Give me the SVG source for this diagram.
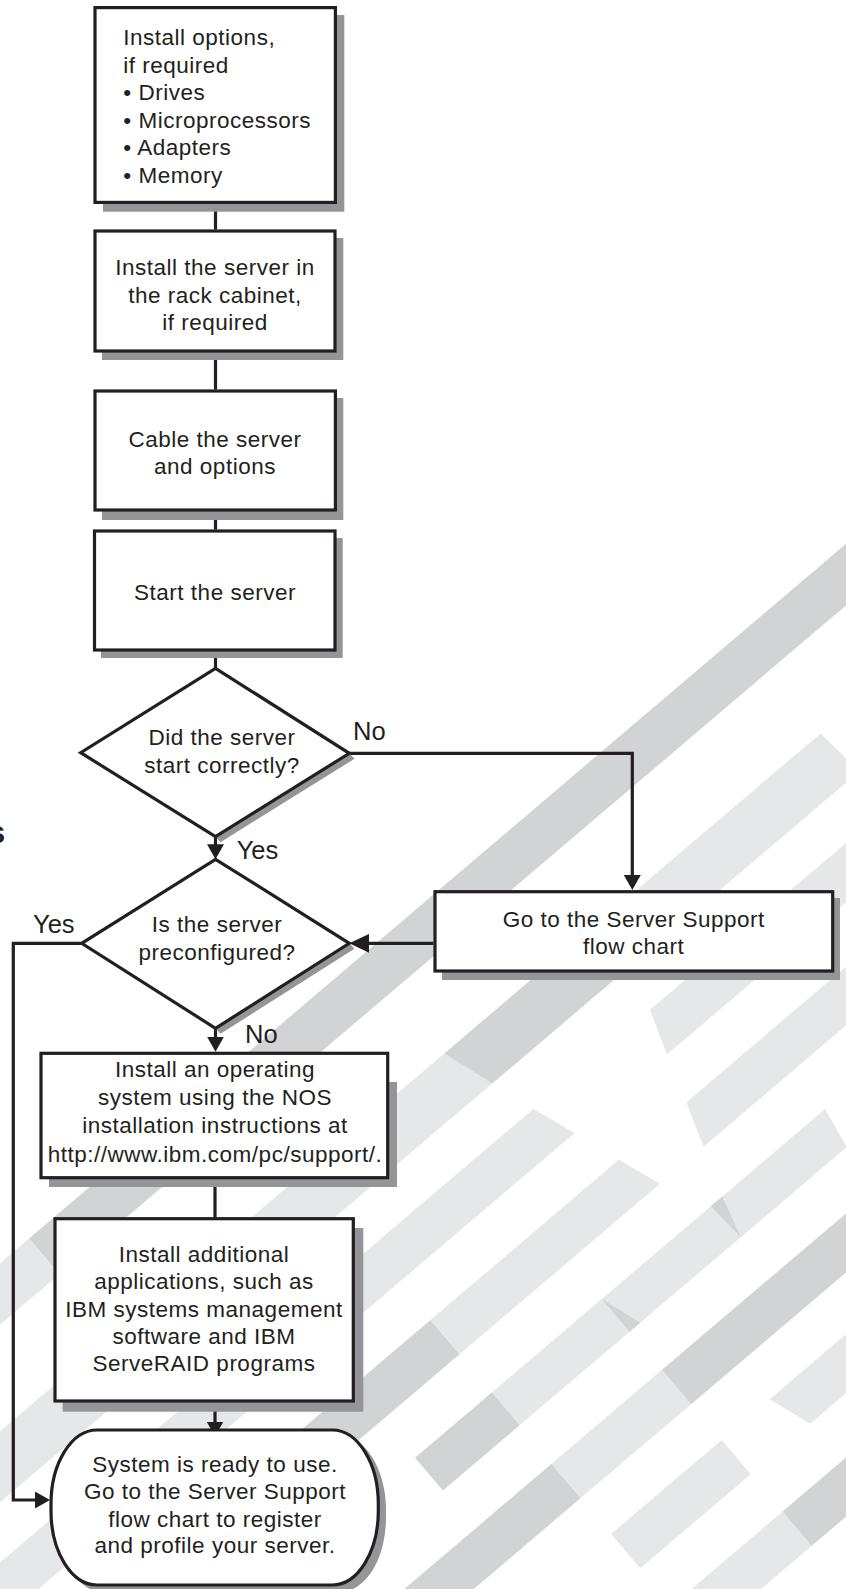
<svg xmlns="http://www.w3.org/2000/svg" width="846" height="1589" viewBox="0 0 846 1589">
<style>
.node{fill:#ffffff;stroke:#231f20;stroke-width:3.2;stroke-linejoin:miter}
.sh{fill:#939598}
.t{font-family:"Liberation Sans",Arial,Helvetica,sans-serif;font-size:22.5px;fill:#231f20;letter-spacing:0.5px}
.c{text-anchor:middle}
.lbl{font-family:"Liberation Sans",Arial,Helvetica,sans-serif;font-size:25.5px;fill:#231f20}
.m{fill:#d1d3d4}
.l{fill:#e6e7e8}
.ln{fill:none;stroke:#231f20;stroke-width:3.2;stroke-linejoin:miter}
</style>
<defs>
<marker id="ah" markerUnits="userSpaceOnUse" markerWidth="16" markerHeight="18" refX="7" refY="9" orient="auto">
<path d="M0,0.5 L15,9 L0,17.5 z" fill="#231f20"/>
</marker>
<marker id="ah2" markerUnits="userSpaceOnUse" markerWidth="21" markerHeight="20" refX="12" refY="10" orient="auto">
<path d="M0,0.5 L20,10 L0,19.5 z" fill="#231f20"/>
</marker>
</defs>
<rect x="0" y="0" width="846" height="1589" fill="#ffffff"/>
<g id="background" transform="matrix(0.762 -0.648 0.648 0.762 0 0)">
<rect class="m" x="-780" y="962" width="1480" height="47"/>
<polygon class="l" points="-1100,962 -780,962 -780,1009 -1100,1009"/>
<polygon class="l" points="-1100,1090 -344,1090 -327,1144 -1100,1144"/>
<polygon class="m" points="-344,1090 -130,1090 -130,1144 -327,1144"/>
<polygon class="l" points="-130,1090 150,1090 155,1144 -130,1144"/>
<polygon class="l" points="-1100,1190 -312,1190 -296,1235 -1100,1235"/>
<polygon class="l" points="-159,1190 700,1190 700,1235 -175,1235"/>
<polygon class="m" points="-1100,1284 -527,1284 -527,1329 -1100,1329"/>
<polygon class="l" points="-527,1284 -280,1284 -264,1329 -527,1329"/>
<polygon class="l" points="-191,1284 700,1284 700,1329 -207,1329"/>
<polygon class="m" points="-628,1379 -527,1379 -527,1422 -628,1422"/>
<polygon class="l" points="-527,1379 -90,1379 -98,1422 -527,1422"/>
<polygon class="m" points="-383,1379 -383,1422 -369,1422"/>
<polygon class="m" points="-240,1379 -225,1379 -237,1422"/>
<polygon class="m" points="-1100,1472 -528,1472 -528,1517 -1100,1517"/>
<polygon class="l" points="-528,1472 -383,1472 -383,1517 -528,1517"/>
<polygon class="m" points="-383,1472 700,1472 700,1517 -383,1517"/>
<polygon class="l" points="-528,1564 -383,1564 -383,1609 -528,1609"/>
<polygon class="l" points="-320,1564 700,1564 700,1609 -305,1609"/>
<polygon class="l" points="-600,1658 -383,1658 -383,1703 -600,1703"/>
<polygon class="m" points="-383,1658 700,1658 700,1703 -383,1703"/>
</g>
<text x="-12" y="843" font-family="Liberation Sans, Arial, sans-serif" font-size="31" font-weight="bold" fill="#231f20">s</text>
<g id="connectors">
<path class="ln" d="M215.5,204 V229.5"/>
<path class="ln" d="M215.5,352.5 V389.5"/>
<path class="ln" d="M215.5,511.5 V529.5"/>
<path class="ln" d="M215.5,651.5 V668.5"/>
<path class="ln" d="M215.5,836.7 V851.3" marker-end="url(#ah)"/>
<path class="ln" d="M349.3,753.3 H632.3 V882" marker-end="url(#ah)"/>
<path class="ln" d="M433.3,943.3 H357.3" marker-end="url(#ah2)"/>
<path class="ln" d="M215.5,1028.3 V1043.7" marker-end="url(#ah)"/>
<path class="ln" d="M215,1179 V1217.5"/>
<path class="ln" d="M215,1402.7 V1428.5" marker-end="url(#ah)"/>
<path class="ln" d="M81.7,943.3 H13.3 V1500 H42" marker-end="url(#ah)"/>
<text class="lbl" x="353" y="740">No</text>
<text class="lbl" x="236.7" y="859">Yes</text>
<text class="lbl" x="33" y="933">Yes</text>
<text class="lbl" x="245" y="1043.3">No</text>
</g>
<g id="n1">
<rect class="sh" x="103" y="15" width="241.3" height="196.7"/>
<rect class="node" x="95" y="7.6" width="240.4" height="194.8"/>
<text class="t"><tspan x="123.3" y="45">Install options,</tspan><tspan x="123.3" y="72.7">if required</tspan><tspan x="123.3" y="100">• Drives</tspan><tspan x="123.3" y="127.7">• Microprocessors</tspan><tspan x="123.3" y="155.3">• Adapters</tspan><tspan x="123.3" y="182.7">• Memory</tspan></text>
</g>
<g id="n2">
<rect class="sh" x="102" y="238" width="241.3" height="122"/>
<rect class="node" x="95" y="231" width="240" height="120"/>
<text class="t c"><tspan x="215" y="275">Install the server in</tspan><tspan x="215" y="302.5">the rack cabinet,</tspan><tspan x="215" y="330">if required</tspan></text>
</g>
<g id="n3">
<rect class="sh" x="102" y="398" width="241.3" height="122"/>
<rect class="node" x="95" y="391" width="240.4" height="119"/>
<text class="t c"><tspan x="215" y="446.5">Cable the server</tspan><tspan x="215" y="473.5">and options</tspan></text>
</g>
<g id="n4">
<rect class="sh" x="101" y="538" width="241.7" height="120"/>
<rect class="node" x="94.5" y="531" width="240.5" height="119"/>
<text class="t c" x="215" y="600">Start the server</text>
</g>
<g id="d1">
<polygon class="sh" points="349.3,753.3 354.5,758.8 220.5,842.2 215.5,836.7"/>
<polygon class="node" points="215.5,668.3 349.3,753.3 215.5,836.7 80.7,752.7"/>
<text class="t c"><tspan x="222" y="745">Did the server</tspan><tspan x="222" y="772.7">start correctly?</tspan></text>
</g>
<g id="d2">
<polygon class="sh" points="349.3,943.3 354.5,948.8 220.5,1033.8 215.5,1028.3"/>
<polygon class="node" points="215.5,859.3 349.3,943.3 215.5,1028.3 81.7,943.3"/>
<text class="t c"><tspan x="217" y="931.7">Is the server</tspan><tspan x="217" y="960">preconfigured?</tspan></text>
</g>
<g id="n5">
<rect class="sh" x="442" y="898" width="398" height="82"/>
<rect class="node" x="435" y="891.7" width="397.7" height="79.3"/>
<text class="t c"><tspan x="633.7" y="926.7">Go to the Server Support</tspan><tspan x="633.7" y="954.3">flow chart</tspan></text>
</g>
<g id="n6">
<rect class="sh" x="49" y="1082" width="348" height="105"/>
<rect class="node" x="41" y="1053.3" width="346.7" height="124.4"/>
<text class="t c"><tspan x="215" y="1076.7">Install an operating</tspan><tspan x="215" y="1105">system using the NOS</tspan><tspan x="215" y="1133.3">installation instructions at</tspan><tspan x="215" y="1161.7">http://www.ibm.com/pc/support/.</tspan></text>
</g>
<g id="n7">
<rect class="sh" x="62.7" y="1228" width="300.6" height="183.7"/>
<rect class="node" x="55" y="1218.7" width="298.3" height="182.3"/>
<text class="t c"><tspan x="204" y="1261.7">Install additional</tspan><tspan x="204" y="1289.3">applications, such as</tspan><tspan x="204" y="1316.7">IBM systems management</tspan><tspan x="204" y="1344">software and IBM</tspan><tspan x="204" y="1370.7">ServeRAID programs</tspan></text>
</g>
<g id="n8">
<rect class="sh" x="57" y="1436" width="329" height="156" rx="46" ry="74"/>
<rect class="node" x="51" y="1430" width="327.3" height="155" rx="46" ry="74"/>
<text class="t c"><tspan x="215" y="1471.7">System is ready to use.</tspan><tspan x="215" y="1499.3">Go to the Server Support</tspan><tspan x="215" y="1526.7">flow chart to register</tspan><tspan x="215" y="1553.3">and profile your server.</tspan></text>
</g>
</svg>
